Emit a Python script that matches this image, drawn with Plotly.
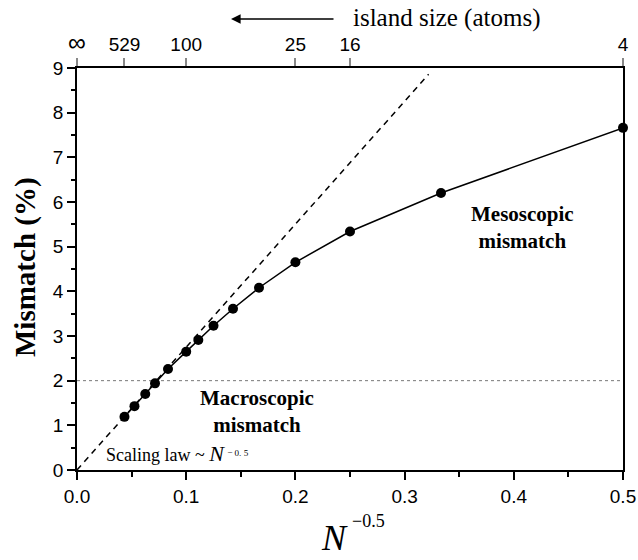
import plotly.graph_objects as go

# Island sizes (atoms per island) and measured lattice mismatch (%)
island_atoms = [529, 361, 256, 196, 144, 100, 81, 64, 49, 36, 25, 16, 9, 4]
mismatch = [1.19, 1.43, 1.70, 1.94, 2.26, 2.65, 2.91, 3.23, 3.61, 4.08, 4.65, 5.34, 6.20, 7.66]

# Horizontal coordinate is N^-0.5
inv_sqrt_n = [n ** -0.5 for n in island_atoms]

# Macroscopic scaling law ~ N^-0.5 (straight line through the origin)
law_x = [0.0, 0.322]
law_y = [0.0, 8.86]

# Boundary between macroscopic and mesoscopic regimes
threshold = 2.0

# Top axis: island size in atoms
top_atoms = [529, 100, 25, 16, 4]
top_labels = ["<span style='font-size:25px'>\u221e</span>", "529", "100", "25", "16", "4"]
top_vals = [0.0] + [n ** -0.5 for n in top_atoms]

SERIF = "Liberation Serif, Times New Roman, serif"
SANS = "Liberation Sans, Arial, sans-serif"

W, H = 638, 560
L, R, T, B = 77, 15, 68, 90
PW, PH = W - L - R, H - T - B


def px(x):
    return (x - L) / PW


def py(y):
    return (H - B - y) / PH


fig = go.Figure()

fig.add_trace(go.Scatter(
    x=[0, 0.5], y=[threshold, threshold], mode="lines",
    line=dict(color="#777777", width=1, dash="dot"),
    hoverinfo="skip", showlegend=False,
))
fig.add_trace(go.Scatter(
    x=law_x, y=law_y, mode="lines",
    line=dict(color="black", width=1.5, dash="6px,5px"),
    showlegend=False,
))
fig.add_trace(go.Scatter(
    x=inv_sqrt_n, y=mismatch, mode="lines+markers",
    line=dict(color="black", width=1.5),
    marker=dict(color="black", size=10),
    cliponaxis=False,
    showlegend=False,
))
# invisible trace so the top axis is bound to data
fig.add_trace(go.Scatter(
    x=[0, 0.5], y=[0, 0], xaxis="x2", mode="markers",
    marker=dict(opacity=0), hoverinfo="skip", showlegend=False,
))

axis_common = dict(
    showgrid=False, zeroline=False, showline=True, automargin=False,
    linecolor="black", linewidth=1.5,
    ticks="outside", tickcolor="black", tickwidth=1.5,
    tickfont=dict(family=SANS, size=19, color="black"),
)

fig.update_layout(
    width=W, height=H, autosize=False,
    margin=dict(l=L, r=R, t=T, b=B, autoexpand=False),
    paper_bgcolor="white", plot_bgcolor="white",
    xaxis=dict(
        range=[0, 0.5], dtick=0.1, tickformat=".1f", ticklen=8,
        minor=dict(ticks="outside", dtick=0.05, ticklen=5,
                   tickcolor="black", tickwidth=1.5),
        anchor="y",
        **axis_common,
    ),
    xaxis2=dict(
        range=[0, 0.5], overlaying="x", side="top", anchor="y",
        tickmode="array", tickvals=top_vals, ticktext=top_labels,
        showgrid=False, zeroline=False, showline=True, automargin=False,
        linecolor="black", linewidth=1.5,
        ticks="outside", ticklen=8, tickcolor="#888888", tickwidth=1.5,
        tickfont=dict(family=SANS, size=19, color="black"),
    ),
    yaxis=dict(
        range=[0, 9], dtick=1, ticklen=8, mirror=True,
        minor=dict(ticks="outside", dtick=0.5, ticklen=4,
                   tickcolor="black", tickwidth=1.5),
        **axis_common,
    ),
)

annotations = [
    dict(text="<b>Mismatch (%)</b>", x=px(25), y=py(267), textangle=-90,
         font=dict(family=SERIF, size=29, color="black")),
    dict(text="<i>N</i>", x=px(350), y=py(538), xanchor="right",
         font=dict(family=SERIF, size=36, color="black")),
    dict(text="\u22120.5", x=px(350), y=py(521), xanchor="left",
         font=dict(family=SERIF, size=18, color="black")),
    dict(text="island size (atoms)", x=px(446), y=py(18),
         font=dict(family=SERIF, size=25, color="black")),
    dict(text="", x=px(231), y=py(19), ax=104, ay=0,
         showarrow=True, arrowhead=2, arrowsize=1.2, arrowwidth=1.6,
         arrowcolor="black"),
    dict(text="<b>Mesoscopic<br>mismatch</b>", x=0.408, y=5.42,
         xref="x", yref="y",
         font=dict(family=SERIF, size=21, color="black")),
    dict(text="<b>Macroscopic<br>mismatch</b>", x=0.165, y=1.30,
         xref="x", yref="y",
         font=dict(family=SERIF, size=21, color="black")),
    dict(text="Scaling law ~ <i><span style='font-size:22px'>N</span></i>"
              "<span style='font-size:13px'> <sup>\u2212 0. 5</sup></span>",
         x=px(104), y=py(453), xanchor="left",
         font=dict(family=SERIF, size=18, color="black")),
]
for a in annotations:
    a.setdefault("xref", "paper")
    a.setdefault("yref", "paper")
    a.setdefault("showarrow", False)
    a.setdefault("xanchor", "center")
    a.setdefault("yanchor", "middle")
fig.update_layout(annotations=annotations)

fig.write_html("out.html")
